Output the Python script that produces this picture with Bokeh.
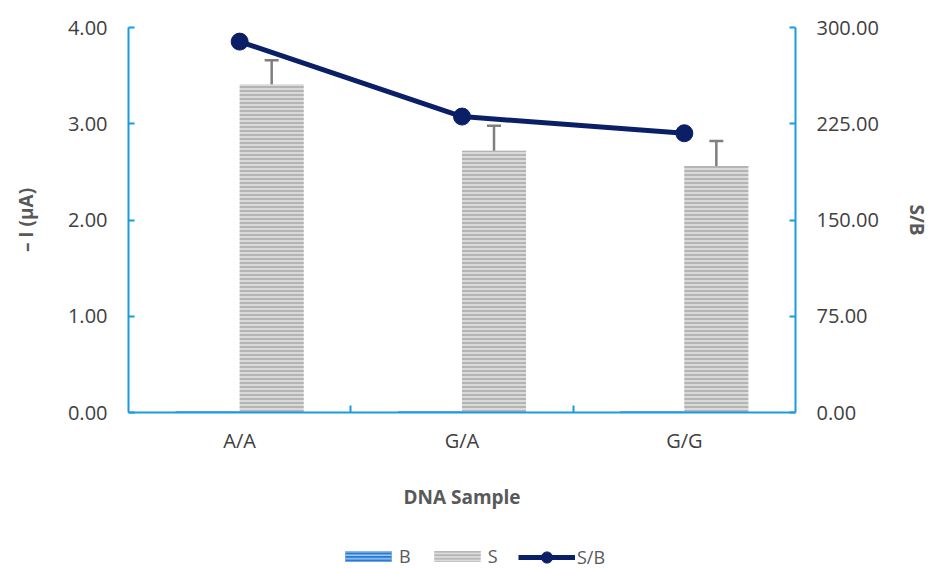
import numpy as np
from bokeh.plotting import figure
from bokeh.layouts import column
from bokeh.models import (Range1d, LinearAxis, FixedTicker, ColumnDataSource, Whisker,
                          TeeHead, Legend, LegendItem, NumeralTickFormatter)
from bokeh.embed import file_html
from bokeh.resources import INLINE

categories = ["A/A", "G/A", "G/G"]
b_values = [0.0118, 0.0118, 0.0117]
s_values = [3.41, 2.72, 2.56]
s_errors = [0.25, 0.26, 0.26]
sb_values = [289.0, 230.6, 217.6]
left_ticks = [0, 1, 2, 3, 4]
right_ticks = [0, 75, 150, 225, 300]

AXIS_BLUE = "#1a9ae0"
FONT = "Open Sans"
LINE_NAVY = "#0b1f66"
B_FILL, B_HATCH = "#2b7bd4", "#9cc8f0"
S_FILL, S_HATCH = "#dadada", "#b0b0b0"
bar_w = 0.288

idx = np.arange(len(categories))
centers = idx + 0.5
b_x = centers - bar_w / 2
s_x = centers + bar_w / 2

W = 934
p = figure(width=W, height=530, output_backend="svg", toolbar_location=None,
           x_range=Range1d(0, len(categories)), y_range=Range1d(0, 4),
           min_border_left=128, min_border_right=W - 795, min_border_top=27, min_border_bottom=118,
           x_axis_location=None, y_axis_location=None)
p.outline_line_color = None
p.xgrid.visible = False
p.ygrid.visible = False
p.extra_y_ranges = {"sb": Range1d(0, 300)}

def style_axis(ax):
    ax.axis_line_color = AXIS_BLUE
    ax.axis_line_width = 2
    ax.major_tick_line_color = AXIS_BLUE
    ax.major_tick_line_width = 2
    ax.minor_tick_line_color = None
    ax.major_tick_in = 6
    ax.major_tick_out = 0
    ax.major_label_text_font = FONT
    ax.major_label_text_font_size = "20px"
    ax.major_label_text_color = "#404040"
    ax.axis_label_text_font = FONT
    ax.axis_label_text_font_size = "19px"
    ax.axis_label_text_font_style = "bold"
    ax.axis_label_text_color = "#595959"

yl = LinearAxis(ticker=FixedTicker(ticks=left_ticks), formatter=NumeralTickFormatter(format="0.00"),
                axis_label="– I (µA)")
style_axis(yl)
yl.major_label_standoff = 21
yl.axis_label_standoff = 26
p.add_layout(yl, "left")

yr = LinearAxis(y_range_name="sb", ticker=FixedTicker(ticks=right_ticks),
                formatter=NumeralTickFormatter(format="0.00"), axis_label="S/B")
style_axis(yr)
yr.major_label_standoff = 21
yr.axis_label_standoff = 22
p.add_layout(yr, "right")

xa = LinearAxis(ticker=FixedTicker(ticks=list(centers), minor_ticks=list(idx[1:])),
                axis_label="DNA Sample")
style_axis(xa)
xa.major_tick_line_color = None
xa.minor_tick_line_color = AXIS_BLUE
xa.minor_tick_line_width = 2
xa.minor_tick_in = 7
xa.minor_tick_out = 0
xa.major_label_overrides = {float(c): lab for c, lab in zip(centers, categories)}
xa.major_label_standoff = 14
xa.axis_label_standoff = 27
p.add_layout(xa, "below")

rb = p.vbar(x=b_x, top=b_values, width=bar_w, fill_color=B_FILL, line_color=None,
            hatch_pattern="horizontal_line", hatch_color=B_HATCH, hatch_scale=4, hatch_weight=1.5)
rs = p.vbar(x=s_x, top=s_values, width=bar_w, fill_color=S_FILL, line_color=None,
            hatch_pattern="horizontal_line", hatch_color=S_HATCH, hatch_scale=4, hatch_weight=1.8)

err_src = ColumnDataSource(dict(x=s_x, upper=np.array(s_values) + np.array(s_errors),
                                lower=np.array(s_values) - np.array(s_errors)))
w = Whisker(base="x", upper="upper", lower="lower", source=err_src,
            line_color="#7f7f7f", line_width=2.5,
            upper_head=TeeHead(size=14, line_color="#7f7f7f", line_width=2.5),
            lower_head=TeeHead(size=14, line_color="#7f7f7f", line_width=2.5))
p.add_layout(w)

rl = p.line(x=centers, y=sb_values, y_range_name="sb", line_color=LINE_NAVY, line_width=5)
rc = p.scatter(x=centers, y=sb_values, y_range_name="sb", size=17, fill_color=LINE_NAVY,
               line_color=LINE_NAVY)

# legend strip below the chart (its frame is aligned with the chart's frame);
# its renderers draw nothing visible, they only style the legend glyphs
lf = figure(width=W, height=38, output_backend="svg", toolbar_location=None,
            x_range=Range1d(0, 1), y_range=Range1d(0, 1),
            min_border_left=0, min_border_right=0, min_border_top=0, min_border_bottom=0,
            x_axis_location=None, y_axis_location=None)
lf.outline_line_color = None
lf.xgrid.visible = False
lf.ygrid.visible = False
lb = lf.vbar(x=[0.5], top=[0], bottom=[0], width=0.0, fill_color=B_FILL, line_color=None,
             hatch_pattern="horizontal_line", hatch_color=B_HATCH, hatch_scale=3.5, hatch_weight=1.5)
ls = lf.vbar(x=[0.5], top=[0], bottom=[0], width=0.0, fill_color=S_FILL, line_color=None,
             hatch_pattern="horizontal_line", hatch_color=S_HATCH, hatch_scale=3.5, hatch_weight=1.5)
ll = lf.line(x=[0.5], y=[-5], line_color=LINE_NAVY, line_width=5)
lc = lf.scatter(x=[0.5], y=[-5], size=17, fill_color=LINE_NAVY, line_color=LINE_NAVY)

def style_legend(lg):
    lg.label_height = 16
    lg.label_width = 0
    lg.label_standoff = 2
    lg.spacing = 17
    lg.padding = 0
    lg.margin = 0
    lg.border_line_color = None
    lg.background_fill_alpha = 0
    lg.label_text_font = FONT
    lg.label_text_font_size = "18px"
    lg.label_text_color = "#595959"

legend1 = Legend(items=[LegendItem(label="B", renderers=[lb]),
                        LegendItem(label="S", renderers=[ls])],
                 orientation="horizontal", location=(211, 0))
style_legend(legend1)
legend1.glyph_width = 58
legend1.glyph_height = 14
lf.add_layout(legend1)

legend2 = Legend(items=[LegendItem(label="S/B", renderers=[ll, lc])],
                 orientation="horizontal", location=(390, -3))
style_legend(legend2)
legend2.glyph_width = 57
legend2.glyph_height = 28
lf.add_layout(legend2)

layout = column(p, lf, spacing=0)
open("out.html", "w").write(file_html(layout, INLINE))
